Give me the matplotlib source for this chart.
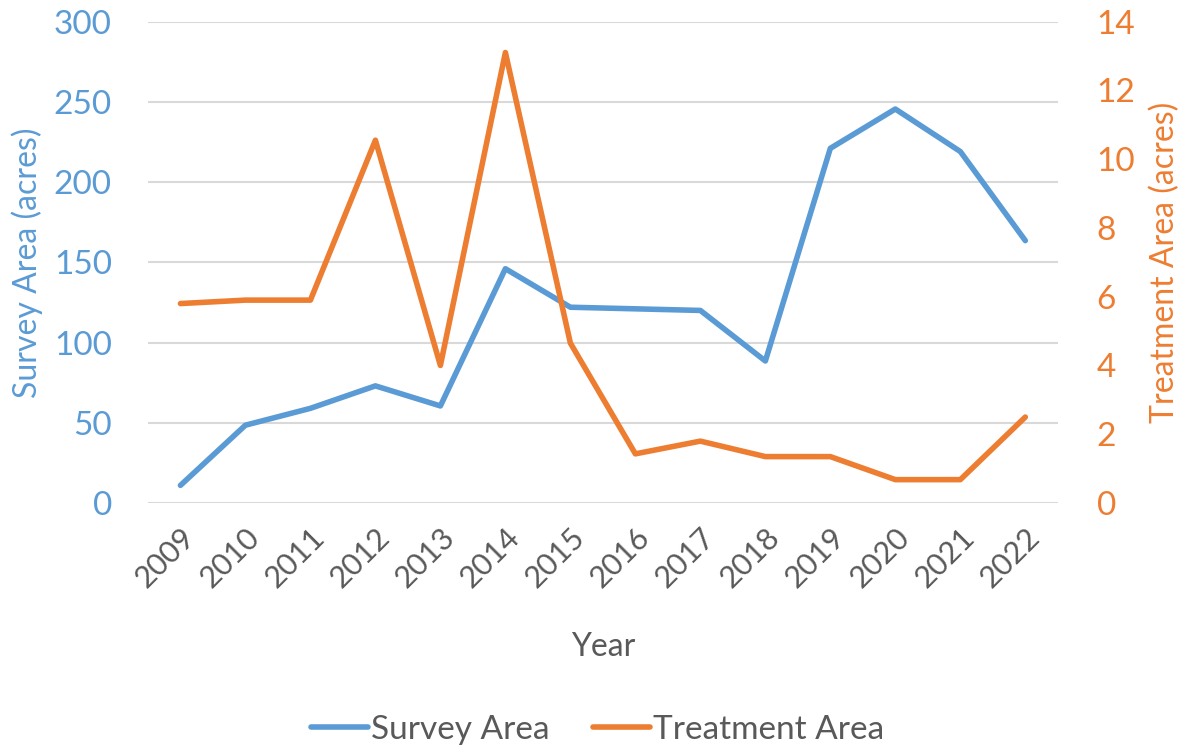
import matplotlib.pyplot as plt

# data
years = ['2009', '2010', '2011', '2012', '2013', '2014', '2015',
         '2016', '2017', '2018', '2019', '2020', '2021', '2022']
survey_area = [11, 48.5, 59, 73, 60.5, 146, 122, 121, 120, 88.5, 221, 245.5, 219, 163.5]
treatment_area = [5.8, 5.9, 5.9, 10.55, 4.0, 13.1, 4.65, 1.43, 1.8, 1.35, 1.35, 0.68, 0.68, 2.5]

blue = '#5B9BD5'
orange = '#ED7D31'
grey = '#595959'

plt.rcParams['font.family'] = ['Lato', 'DejaVu Sans']

fig = plt.figure(figsize=(11.95, 7.48), dpi=100)
ax = fig.add_axes([0.1238, 0.3275, 0.7614, 0.6437])
ax2 = ax.twinx()

x = list(range(len(years)))
ax.plot(x, survey_area, color=blue, lw=4, solid_capstyle='round',
        solid_joinstyle='round', label='Survey Area', zorder=3)
ax2.plot(x, treatment_area, color=orange, lw=4, solid_capstyle='round',
         solid_joinstyle='round', label='Treatment Area', zorder=3)

ax.set_xlim(-0.5, len(years) - 0.5)
ax.set_ylim(0, 300)
ax2.set_ylim(0, 14)
ax.set_yticks(range(0, 301, 50))
ax2.set_yticks(range(0, 15, 2))
ax.grid(axis='y', color='#D9D9D9', lw=1.5)
ax.set_axisbelow(True)

for a in (ax, ax2):
    for s in a.spines.values():
        s.set_visible(False)
    a.tick_params(length=0)

ax.set_xticks(x)
ax.set_xticklabels(years, rotation=45, ha='right', rotation_mode='anchor',
                   fontsize=22, color=grey)
ax.tick_params(axis='x', pad=14)
ax.tick_params(axis='y', labelsize=24, labelcolor=blue, pad=26)
ax2.tick_params(axis='y', labelsize=24, labelcolor=orange, pad=28)

ax.set_ylabel('Survey Area (acres)', fontsize=23, color=blue, labelpad=8)
ax2.set_ylabel('Treatment Area (acres)', fontsize=23, color=orange, labelpad=10)
ax.set_xlabel('Year', fontsize=23, color=grey, labelpad=29)

h1, l1 = ax.get_legend_handles_labels()
h2, l2 = ax2.get_legend_handles_labels()
fig.legend(h1 + h2, l1 + l2, loc='center', bbox_to_anchor=(0.5, 0.024),
           ncol=2, frameon=False, fontsize=24, handlelength=1.7,
           handletextpad=0.1, columnspacing=1.3, labelcolor=grey)

fig.savefig('out.png', dpi=100)
